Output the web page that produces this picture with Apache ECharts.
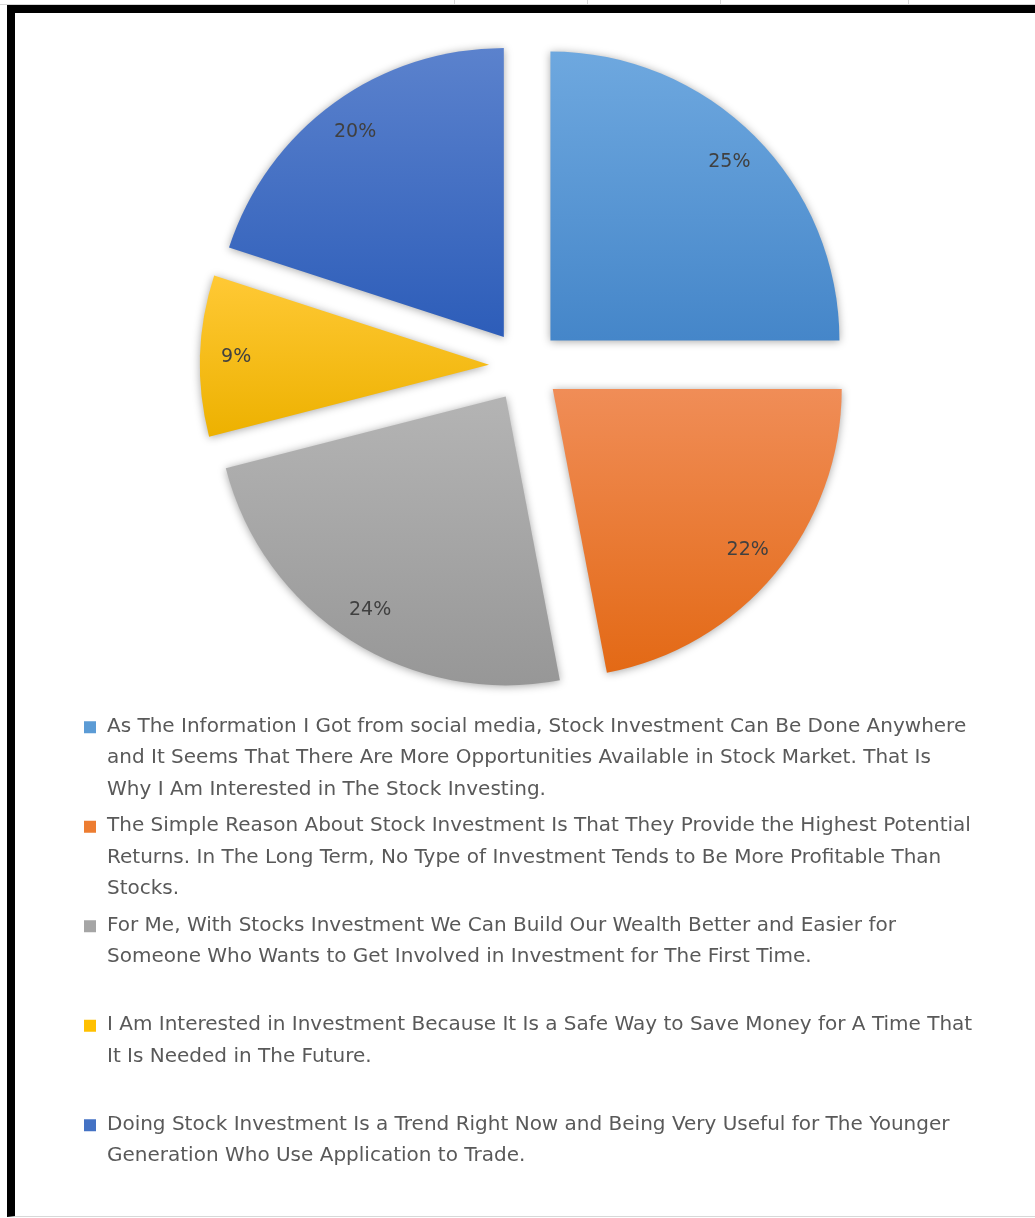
<!DOCTYPE html>
<html>
<head>
<meta charset="utf-8">
<script src="https://cdn.jsdelivr.net/npm/echarts@6/dist/echarts.min.js"></script>
<style>
  html, body { margin: 0; padding: 0; background: #fff; }
  #sheet { position: absolute; left: 0; top: 0; width: 1035px; height: 1218px; overflow: hidden; background: #fff; }
  .grid-h { position: absolute; left: 0; width: 1035px; height: 1px; background: #d6d6d6; }
  .grid-v { position: absolute; top: 0; width: 1px; height: 5px; background: #d6d6d6; }
  #frame {
    position: absolute; left: 7px; top: 5px; width: 1040px; height: 1203px;
    border-left: 8px solid #000; border-top: 8px solid #000; border-bottom: 1px solid #d8d8d8;
    background: #fff;
  }
  #chart { position: absolute; left: 0; top: 0; width: 1035px; height: 1218px; }
</style>
</head>
<body>
<div id="sheet">
  <div class="grid-h" style="top:4px"></div>
  <div class="grid-v" style="left:454px"></div>
  <div class="grid-v" style="left:587px"></div>
  <div class="grid-v" style="left:720px"></div>
  <div class="grid-v" style="left:908px"></div>
  <div id="frame"></div>
  <div id="chart"></div>
</div>
<script>
// Survey answers: why respondents are interested in stock investing
const legendLines = [
  ['As The Information I Got from social media, Stock Investment Can Be Done Anywhere',
   'and It Seems That There Are More Opportunities Available in Stock Market. That Is',
   'Why I Am Interested in The Stock Investing.'],
  ['The Simple Reason About Stock Investment Is That They Provide the Highest Potential',
   'Returns. In The Long Term, No Type of Investment Tends to Be More Profitable Than',
   'Stocks.'],
  ['For Me, With Stocks Investment We Can Build Our Wealth Better and Easier for',
   'Someone Who Wants to Get Involved in Investment for The First Time.'],
  ['I Am Interested in Investment Because It Is a Safe Way to Save Money for A Time That',
   'It Is Needed in The Future.'],
  ['Doing Stock Investment Is a Trend Right Now and Being Very Useful for The Younger',
   'Generation Who Use Application to Trade.']
];
const categories = legendLines.map(l => l.join(' '));
const shares = [25, 22, 24, 9, 20];

// Office palette: solid swatches and top-to-bottom slice gradients
const swatchColors = ['#5B9BD5', '#ED7D31', '#A5A5A5', '#FFC000', '#4472C4'];
const gradientTop = ['#6EA8DF', '#F08D57', '#B4B4B4', '#FFC935', '#5B82CD'];
const gradientBottom = ['#4586C9', '#E36915', '#979797', '#EDB100', '#2D5DB9'];

const CENTER = [525, 366];
const EXPLODE = 36;
const LINE_H = 31.5;
const SLOT_LINES = 3;
const SLOT_H = LINE_H * SLOT_LINES;

// Swatch sits level with the first text line of a three-line slot;
// the leading move-to points stretch the icon box over the whole slot.
const sq = LINE_H / 2 - 5.5;
const swatchIcon = 'path://M0,0 M0,' + SLOT_H + ' M0,' + sq + ' L12,' + sq +
  ' L12,' + (sq + 12) + ' L0,' + (sq + 12) + ' Z';

function vGradient(i) {
  return {
    type: 'linear', x: 0, y: 0, x2: 0, y2: 1,
    colorStops: [{ offset: 0, color: gradientTop[i] }, { offset: 1, color: gradientBottom[i] }]
  };
}

const sliceData = categories.map((name, i) => ({
  name, value: shares[i], selected: true,
  itemStyle: { color: vGradient(i) }
}));
const labelData = categories.map((name, i) => ({
  name, value: shares[i], selected: true
}));

const legendData = categories.map((name, i) => ({
  name,
  icon: swatchIcon,
  itemStyle: { color: swatchColors[i] }
}));

function legendText(name) {
  const lines = legendLines[categories.indexOf(name)].slice();
  while (lines.length < SLOT_LINES) lines.push('\u00a0');
  return lines.join('\n');
}

const chart = echarts.init(document.getElementById('chart'), null, { renderer: 'canvas' });
chart.setOption({
  animation: false,
  legend: {
    orient: 'vertical',
    left: 84,
    top: 711,
    padding: 0,
    itemGap: 5,
    itemWidth: 12,
    itemHeight: SLOT_H,
    selectedMode: false,
    data: legendData,
    formatter: legendText,
    textStyle: {
      fontFamily: 'DejaVu Sans',
      fontSize: 20,
      color: '#595959',
      lineHeight: LINE_H,
      padding: [0, 0, 0, 6]
    }
  },
  series: [
    {
      type: 'pie',
      center: CENTER,
      radius: [0, 289],
      startAngle: 90,
      clockwise: true,
      selectedMode: 'multiple',
      selectedOffset: EXPLODE,
      silent: true,
      label: { show: false },
      labelLine: { show: false },
      itemStyle: {
        shadowBlur: 9,
        shadowColor: 'rgba(0,0,0,0.35)',
        shadowOffsetY: 1
      },
      data: sliceData
    },
    {
      // transparent ring that carries the percentage labels
      type: 'pie',
      center: CENTER,
      radius: [240, 260],
      startAngle: 90,
      clockwise: true,
      selectedMode: 'multiple',
      selectedOffset: EXPLODE,
      silent: true,
      itemStyle: { color: 'rgba(0,0,0,0)' },
      label: {
        show: true,
        position: 'inside',
        formatter: '{c}%',
        fontFamily: 'DejaVu Sans',
        fontSize: 19,
        color: '#404040'
      },
      labelLine: { show: false },
      data: labelData
    }
  ]
});
</script>
</body>
</html>
